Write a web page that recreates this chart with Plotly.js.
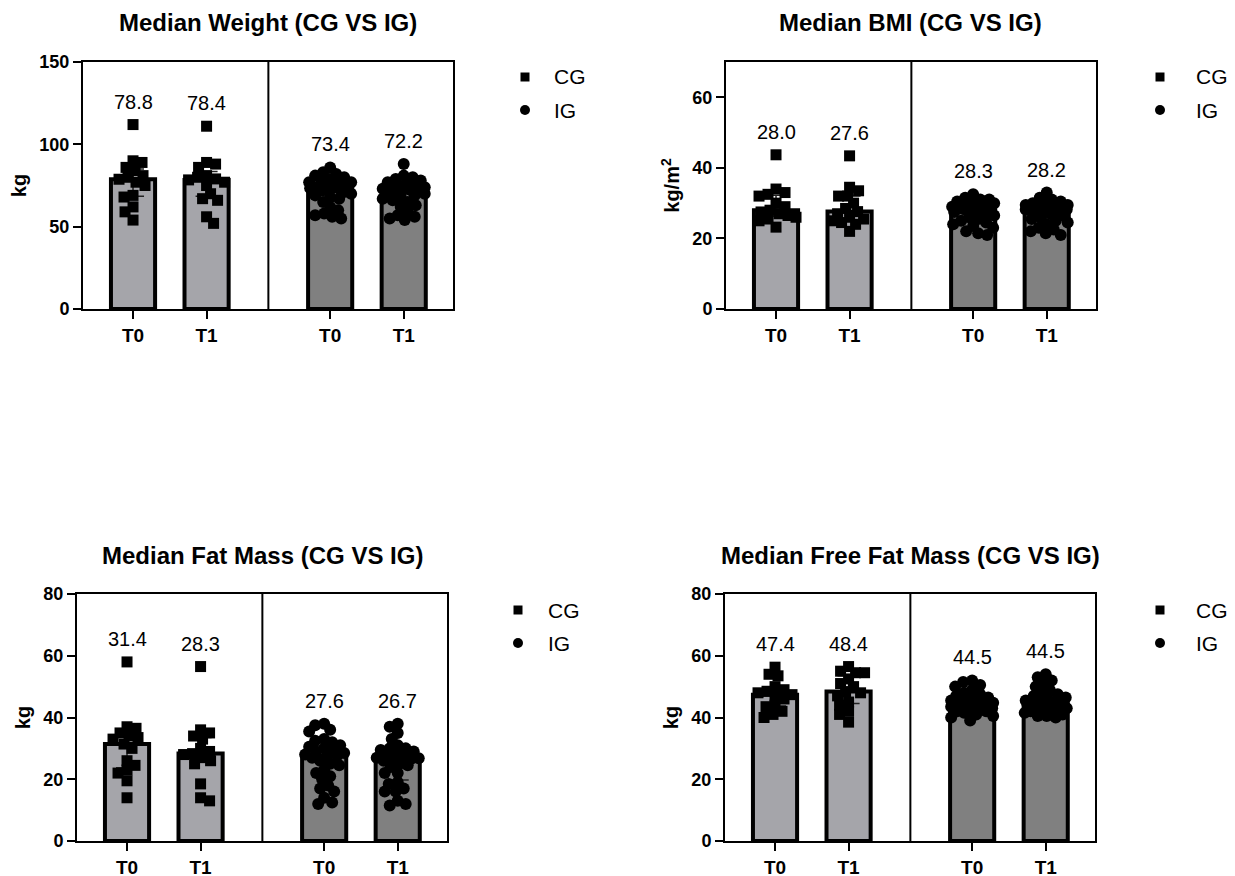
<!DOCTYPE html>
<html>
<head>
<meta charset="utf-8">
<script src="https://cdn.plot.ly/plotly-3.0.1.min.js"></script>
<style>
  html, body { margin: 0; padding: 0; background: #fff; }
  #chart { width: 1235px; height: 876px; }
</style>
</head>
<body>
<div id="chart"></div>
<script>
// ---- data -------------------------------------------------------------
const timepoints = ['T0', 'T1'];
const groups = ['CG', 'IG'];

// Weight (kg)
const weightMedianCG = [78.8, 78.4];
const weightMedianIG = [73.4, 72.2];
const weightCG_T0 = [112, 90, 89, 86, 84, 81, 80, 78.8, 77, 75, 69, 68, 62, 59, 54];
const weightCG_T1 = [111, 89, 88, 86, 81, 80, 79, 78.4, 77, 75, 70, 67, 66, 56, 52];
const weightIG_T0 = [86, 83, 82, 81, 80, 79, 78, 77, 77, 76, 76, 75, 74, 74, 73.4, 73.4, 73, 72, 71, 70, 69, 68, 67, 65, 62, 60, 58, 57, 56, 55];
const weightIG_T1 = [88, 81, 80, 79, 78, 77, 76, 75, 75, 74, 73, 73, 72.5, 72.2, 72.2, 72.2, 71, 70, 69, 68, 67, 66, 65, 63, 62, 59, 57, 56, 55, 54];

// BMI (kg/m2)
const bmiMedianCG = [28.0, 27.6];
const bmiMedianIG = [28.3, 28.2];
const bmiCG_T0 = [43.7, 34, 33, 32.5, 32, 30, 29, 28, 27.5, 27, 26.5, 26, 25.5, 25, 23.2];
const bmiCG_T1 = [43.4, 34.5, 33.5, 32, 32, 30, 28.5, 27.6, 27, 26, 25.5, 25, 24.5, 24, 22];
const bmiIG_T0 = [32.5, 31.5, 31, 31, 30.5, 30.5, 30, 30, 29.5, 29, 29, 28.5, 28.5, 28.3, 28.3, 28.3, 28, 27.5, 27, 26.5, 26, 25.5, 25, 24.5, 24, 23.5, 23, 22, 21.5, 21];
const bmiIG_T1 = [33, 31.5, 31, 30.5, 30, 30, 29.5, 29.5, 29, 29, 28.5, 28.5, 28.3, 28.2, 28.2, 28.2, 28, 27.5, 27, 26.5, 26, 25.5, 25, 24.5, 24, 23, 22.5, 22, 21.5, 21];

// Fat mass (kg)
const fatMedianCG = [31.4, 28.3];
const fatMedianIG = [27.6, 26.7];
const fatCG_T0 = [58, 37, 36.5, 35, 34, 33.5, 33, 31.4, 30, 26, 24.5, 23, 22, 19.5, 14];
const fatCG_T1 = [56.5, 36, 35, 34, 33, 30, 29, 28.3, 28, 27, 26, 25, 18.5, 14, 13];
const fatIG_T0 = [38, 37.5, 36, 35.5, 33, 32.5, 32, 31, 30.5, 30, 29.5, 29, 28.5, 28, 27.6, 27.6, 27, 26, 25, 24.5, 23, 22, 21, 20, 18, 17, 16, 14, 12.5, 12];
const fatIG_T1 = [38, 37, 35, 33, 31, 30, 30, 29.5, 29, 28.5, 28, 27.5, 27, 26.8, 26.7, 26.7, 26, 25, 24.5, 24, 22, 22, 19, 18.5, 17, 16, 16, 13, 12, 11.5];

// Free fat mass (kg)
const ffmMedianCG = [47.4, 48.4];
const ffmMedianIG = [44.5, 44.5];
const ffmCG_T0 = [56.3, 54, 53.5, 50, 49, 48.5, 48, 47.4, 47, 46, 44, 43.5, 42, 41, 40];
const ffmCG_T1 = [56.5, 55, 54.5, 54.5, 52.5, 51, 50, 48.4, 48, 47, 45, 44, 42, 41, 38.5];
const ffmIG_T0 = [52, 51.5, 50.5, 50, 49, 48, 47.5, 47, 46.5, 46, 46, 45.5, 45, 44.8, 44.5, 44.5, 44.2, 44, 44, 43.5, 43, 43, 42.5, 42, 42, 41.5, 41, 40.5, 40, 39];
const ffmIG_T1 = [54, 53, 52, 51, 50, 49, 48, 47.5, 47, 46.5, 46, 45.5, 45, 44.8, 44.5, 44.5, 44.3, 44, 44, 43.5, 43, 43, 42.5, 42, 42, 41.5, 41, 40.5, 40.5, 40];

// ---- panel setup ------------------------------------------------------
const W = 1235, H = 876;
const FONT = 'Arial, "Liberation Sans", sans-serif';
const CG_FILL = '#a5a5aa';
const IG_FILL = '#808080';

const panels = [
  { title: 'Median Weight (CG VS IG)', ytitle: 'kg', ymax: 150, dtick: 50,
    left: 83, top: 62, bottom: 309, titleY: 22, legX: 525, legTextX: 552, legY: 77,
    medCG: weightMedianCG, medIG: weightMedianIG,
    cg: [weightCG_T0, weightCG_T1], ig: [weightIG_T0, weightIG_T1] },
  { title: 'Median BMI (CG VS IG)', ytitle: 'kg/m<sup>2</sup>', ymax: 70, dtick: 20,
    left: 726, top: 62, bottom: 309, titleY: 22, legX: 1160, legTextX: 1194, legY: 77,
    medCG: bmiMedianCG, medIG: bmiMedianIG,
    cg: [bmiCG_T0, bmiCG_T1], ig: [bmiIG_T0, bmiIG_T1] },
  { title: 'Median Fat Mass (CG VS IG)', ytitle: 'kg', ymax: 80, dtick: 20,
    left: 77, top: 594, bottom: 841, titleY: 555, legX: 518, legTextX: 546, legY: 610,
    medCG: fatMedianCG, medIG: fatMedianIG,
    cg: [fatCG_T0, fatCG_T1], ig: [fatIG_T0, fatIG_T1] },
  { title: 'Median Free Fat Mass (CG VS IG)', ytitle: 'kg', ymax: 80, dtick: 20,
    left: 725, top: 594, bottom: 841, titleY: 555, legX: 1160, legTextX: 1194, legY: 610,
    medCG: ffmMedianCG, medIG: ffmMedianIG,
    cg: [ffmCG_T0, ffmCG_T1], ig: [ffmIG_T0, ffmIG_T1] }
];

const PLOT_W = 370;
const X_RANGE = [-0.68, 4.35];
const CG_POS = [0, 1];
const IG_POS = [2.68, 3.68];
const DIVIDER = 1.84;
const PX_PER_X = PLOT_W / (X_RANGE[1] - X_RANGE[0]);

// simple beeswarm: horizontal pixel offsets so markers sit side by side
function swarm(vals, pxPerY, minDist, maxOff) {
  const order = vals.map((_, i) => i).sort((a, b) => vals[b] - vals[a]);
  const placed = [];
  const off = new Array(vals.length).fill(0);
  order.forEach((i, n) => {
    const y = vals[i] * pxPerY;
    const sign = n % 2 ? -1 : 1;
    let chosen = null, bestGap = -1, bestX = 0;
    for (let k = 0; k <= maxOff && chosen === null; k += 1) {
      for (const s of (k === 0 ? [1] : [sign, -sign])) {
        const x = k * s;
        let gap = Infinity;
        for (const p of placed) gap = Math.min(gap, Math.hypot(p.x - x, p.y - y));
        if (gap >= minDist) { chosen = x; break; }
        if (gap > bestGap) { bestGap = gap; bestX = x; }
      }
    }
    if (chosen === null) chosen = bestX;
    placed.push({ x: chosen, y });
    off[i] = chosen;
  });
  return off;
}

function quantile(vals, q) {
  const s = [...vals].sort((a, b) => a - b);
  const pos = (s.length - 1) * q;
  const lo = Math.floor(pos), hi = Math.ceil(pos);
  return s[lo] + (s[hi] - s[lo]) * (pos - lo);
}

const traces = [];
const annotations = [];
const shapes = [];
const layout = {
  width: W, height: H,
  margin: { l: 0, r: 0, t: 0, b: 0 },
  paper_bgcolor: '#fff', plot_bgcolor: '#fff',
  showlegend: false,
  barmode: 'overlay',
  font: { family: FONT, color: '#000' }
};

panels.forEach((p, k) => {
  const sfx = k === 0 ? '' : String(k + 1);
  const xa = 'x' + sfx, ya = 'y' + sfx;
  const pxPerY = (p.bottom - p.top) / p.ymax;

  layout['xaxis' + sfx] = {
    domain: [p.left / W, (p.left + PLOT_W) / W],
    range: X_RANGE, anchor: ya,
    tickmode: 'array', tickvals: [...CG_POS, ...IG_POS],
    ticktext: [...timepoints, ...timepoints],
    showline: true, linewidth: 2, linecolor: '#000', mirror: true,
    ticks: 'outside', ticklen: 8, tickwidth: 2, tickcolor: '#000',
    tickfont: { family: FONT, size: 19, weight: 700, color: '#000' },
    showgrid: false, zeroline: false, fixedrange: true
  };
  layout['yaxis' + sfx] = {
    domain: [1 - p.bottom / H, 1 - p.top / H],
    range: [0, p.ymax], anchor: xa, dtick: p.dtick, tick0: 0,
    showline: true, linewidth: 2, linecolor: '#000', mirror: true,
    ticks: 'outside', ticklen: 8, tickwidth: 2, tickcolor: '#000',
    tickfont: { family: FONT, size: 18, weight: 700, color: '#000' },
    title: { text: p.ytitle, standoff: 7, font: { family: FONT, size: 20, weight: 700, color: '#000' } },
    showgrid: false, zeroline: false, fixedrange: true
  };

  // bars at the median values
  traces.push({ type: 'bar', x: CG_POS, y: p.medCG, width: 0.6, xaxis: xa, yaxis: ya,
    marker: { color: CG_FILL, line: { color: '#000', width: 4 } }, hoverinfo: 'skip' });
  traces.push({ type: 'bar', x: IG_POS, y: p.medIG, width: 0.6, xaxis: xa, yaxis: ya,
    marker: { color: IG_FILL, line: { color: '#000', width: 4 } }, hoverinfo: 'skip' });

  // interquartile range whiskers
  [[CG_POS, p.cg, p.medCG], [IG_POS, p.ig, p.medIG]].forEach(([pos, sets, med]) => {
    traces.push({ type: 'scatter', mode: 'markers', x: pos, y: med, xaxis: xa, yaxis: ya,
      marker: { size: 1, opacity: 0 }, hoverinfo: 'skip',
      error_y: { type: 'data', symmetric: false,
        array: sets.map((s, i) => Math.max(0, quantile(s, 0.75) - med[i])),
        arrayminus: sets.map((s, i) => Math.max(0, med[i] - quantile(s, 0.25))),
        width: 11, thickness: 1.5, color: '#222' } });
  });

  // individual points
  const addPoints = (pos, sets, symbol, size, minDist, maxOff) => {
    const xs = [], ys = [];
    sets.forEach((s, i) => {
      const off = swarm(s, pxPerY, minDist, maxOff);
      s.forEach((v, j) => { xs.push(pos[i] + off[j] / PX_PER_X); ys.push(v); });
    });
    traces.push({ type: 'scatter', mode: 'markers', x: xs, y: ys, xaxis: xa, yaxis: ya,
      marker: { symbol, size, color: '#000', line: { width: 0 } }, cliponaxis: false });
  };
  addPoints(CG_POS, p.cg, 'square', 11, 9, 20);
  addPoints(IG_POS, p.ig, 'circle', 12, 8.5, 21);

  // value labels above each group
  [[CG_POS, p.medCG, p.cg], [IG_POS, p.medIG, p.ig]].forEach(([pos, med, sets]) => {
    pos.forEach((x, i) => {
      annotations.push({ xref: xa, yref: ya, x, y: Math.max(...sets[i]),
        text: med[i].toFixed(1), showarrow: false, yanchor: 'bottom', yshift: 10,
        font: { family: FONT, size: 20, color: '#000' } });
    });
  });

  // divider between the two groups
  shapes.push({ type: 'line', xref: xa, yref: ya + ' domain', x0: DIVIDER, x1: DIVIDER, y0: 0, y1: 1,
    line: { color: '#000', width: 2 } });

  // panel title
  annotations.push({ xref: 'paper', yref: 'paper', x: (p.left + PLOT_W / 2) / W, y: 1 - p.titleY / H,
    text: '<b>' + p.title + '</b>', showarrow: false, xanchor: 'center', yanchor: 'middle',
    font: { family: FONT, size: 24, color: '#000' } });

  // legend: square for CG, circle for IG
  const s = 4.5, r = 5;
  shapes.push({ type: 'rect', xref: 'paper', yref: 'paper',
    x0: (p.legX - s) / W, x1: (p.legX + s) / W, y0: 1 - (p.legY + s) / H, y1: 1 - (p.legY - s) / H,
    fillcolor: '#000', line: { width: 0 } });
  shapes.push({ type: 'circle', xref: 'paper', yref: 'paper',
    x0: (p.legX - r) / W, x1: (p.legX + r) / W, y0: 1 - (p.legY + 33 + r) / H, y1: 1 - (p.legY + 33 - r) / H,
    fillcolor: '#000', line: { width: 0 } });
  groups.forEach((g, i) => {
    annotations.push({ xref: 'paper', yref: 'paper', x: p.legTextX / W, y: 1 - (p.legY + 33 * i) / H,
      text: g, showarrow: false, xanchor: 'left', yanchor: 'middle',
      font: { family: FONT, size: 21, color: '#000' } });
  });
});

layout.annotations = annotations;
layout.shapes = shapes;

Plotly.newPlot('chart', traces, layout, { displayModeBar: false, staticPlot: true });
</script>
</body>
</html>
